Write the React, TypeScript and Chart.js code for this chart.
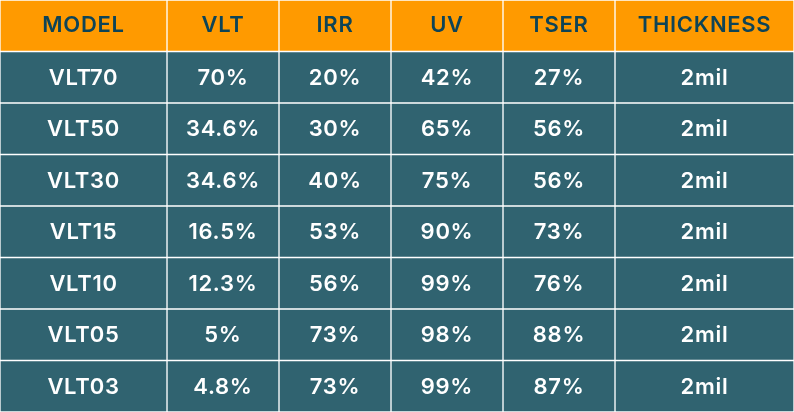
import React, { useEffect, useRef } from "react";
import { Chart, registerables } from "chart.js";

Chart.register(...registerables);

const headers = ["MODEL", "VLT", "IRR", "UV", "TSER", "THICKNESS"];
const models = ["VLT70", "VLT50", "VLT30", "VLT15", "VLT10", "VLT05", "VLT03"];
const vlt = ["70%", "34.6%", "34.6%", "16.5%", "12.3%", "5%", "4.8%"];
const irr = ["20%", "30%", "40%", "53%", "56%", "73%", "73%"];
const uv = ["42%", "65%", "75%", "90%", "99%", "98%", "99%"];
const tser = ["27%", "56%", "56%", "73%", "76%", "88%", "87%"];
const thickness = ["2mil", "2mil", "2mil", "2mil", "2mil", "2mil", "2mil"];

const columns = [models, vlt, irr, uv, tser, thickness];
// column boundaries on the x axis (layout)
const colEdges = [0, 167, 279, 391, 503, 615, 794];

const ORANGE = "#FF9A00";
const TEAL = "#306370";
const HEADER_TEXT = "#0E4457";
const LINE = "rgba(255,255,255,0.38)";

export default function App() {
  const ref = useRef<HTMLCanvasElement | null>(null);

  useEffect(() => {
    document.body.style.margin = "0";
    const canvas = ref.current;
    if (!canvas) return;
    const rowLabels = ["HEADER", ...models];

    const datasets = columns.map((col, c) => ({
      label: headers[c],
      data: rowLabels.map(() => [colEdges[c], colEdges[c + 1]] as [number, number]),
      backgroundColor: rowLabels.map((_, i) => (i === 0 ? ORANGE : TEAL)),
      borderColor: LINE,
      borderWidth: 1,
      borderSkipped: false as const,
      grouped: false,
      barPercentage: 1,
      categoryPercentage: 1,
    }));

    const textPlugin = {
      id: "cellText",
      afterDatasetsDraw(chart: any) {
        const ctx = chart.ctx;
        ctx.save();
        ctx.textAlign = "center";
        ctx.textBaseline = "middle";
        try {
          (ctx as any).letterSpacing = "0.7px";
        } catch (e) {}
        chart.data.datasets.forEach((_: any, c: number) => {
          const meta = chart.getDatasetMeta(c);
          meta.data.forEach((el: any, i: number) => {
            const cx = (el.x + el.base) / 2;
            const cy = el.y + 1;
            if (i === 0) {
              ctx.fillStyle = HEADER_TEXT;
              ctx.font = "600 22px Inter";
              ctx.fillText(headers[c], cx, cy - 1);
            } else {
              ctx.fillStyle = "#FFFFFF";
              ctx.font = "600 22px Inter";
              ctx.fillText(columns[c][i - 1], cx, cy);
            }
          });
        });
        ctx.restore();
      },
    };

    const chart = new Chart(canvas, {
      type: "bar",
      data: { labels: rowLabels, datasets: datasets as any },
      options: {
        indexAxis: "y",
        animation: false,
        responsive: false,
        layout: { padding: 0 },
        plugins: { legend: { display: false }, tooltip: { enabled: false } },
        scales: {
          x: { type: "linear", min: colEdges[0], max: colEdges[colEdges.length - 1], display: false },
          y: { type: "category", display: false },
        },
      },
      plugins: [textPlugin],
    });
    return () => chart.destroy();
  }, []);

  return <canvas ref={ref} width={794} height={412} style={{ display: "block" }} />;
}
